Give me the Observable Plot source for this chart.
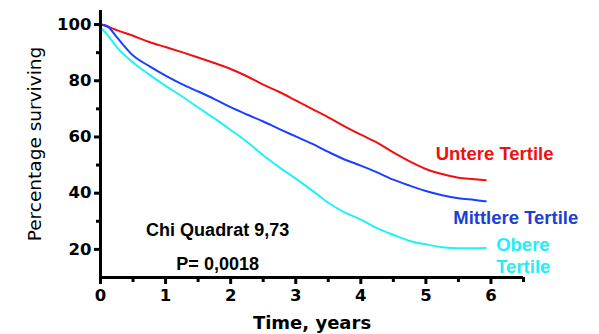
<!DOCTYPE html>
<html><head><meta charset="utf-8">
<script src="https://cdn.jsdelivr.net/npm/d3@7"></script>
<script src="https://cdn.jsdelivr.net/npm/@observablehq/plot@0.6"></script>
<style>body{margin:0;background:#fff}</style>
</head><body><div id="chart"></div>
<script>
const times    = [0, 0.1, 0.25, 0.5, 0.75, 1, 1.25, 1.5, 1.75, 2, 2.25, 2.5, 2.75, 3, 3.25, 3.5, 3.75, 4, 4.25, 4.5, 4.75, 5, 5.25, 5.5, 5.75, 5.92];
const untere   = [100, 99.3, 98.0, 96.0, 93.8, 92.0, 90.2, 88.3, 86.3, 84.2, 81.6, 78.6, 76.0, 73.0, 70.0, 67.0, 63.8, 60.8, 58.0, 54.5, 51.3, 48.6, 46.8, 45.5, 45.0, 44.6];
const mittlere = [100, 99.5, 95.5, 89.0, 85.2, 81.8, 78.8, 76.2, 73.5, 70.6, 68.0, 65.5, 62.8, 60.2, 57.6, 54.7, 52.0, 49.8, 47.4, 44.8, 42.7, 40.8, 39.3, 38.2, 37.6, 37.1];
const obere    = [99.0, 96.5, 92.0, 86.5, 82.2, 78.2, 74.5, 70.5, 66.6, 62.5, 58.3, 53.5, 49.2, 45.2, 41.0, 36.6, 33.2, 30.6, 27.6, 25.2, 23.0, 21.8, 20.8, 20.4, 20.4, 20.5];

const seriesKeys   = ["Untere", "Mittlere", "Obere"];
const seriesLabels = ["Untere Tertile", "Mittlere Tertile", "Obere\nTertile"];
const labelX = [5.15, 5.42, 6.08];
const labelY = [51.8, 29.0, 11.7];
const lineColors  = ["#f20f0f", "#1a40ff", "#1ef2f7"];
const labelColors = ["#f20f0f", "#1e3ed6", "#22eef8"];

const statsText = ["Chi Quadrat 9,73", "P= 0,0018"];
const statsX = [1.8, 1.8];
const statsY = [24.6, 12.5];

const xTicks = [0, 1, 2, 3, 4, 5, 6];
const xMinor = [0.5, 1.5, 2.5, 3.5, 4.5, 5.5, 6.5];
const yTicks = [20, 40, 60, 80, 100];
const yMinor = [30, 50, 70, 90];
const xTitle = "Time, years";
const yTitle = "Percentage surviving";

const seriesValues = [untere, mittlere, obere];
const rows = [];
seriesKeys.forEach((k, j) => times.forEach((t, i) => rows.push({t, v: seriesValues[j][i], s: k})));
const labels = seriesKeys.map((k, j) => ({s: k, text: seriesLabels[j], x: labelX[j], y: labelY[j], c: labelColors[j]}));
const stats = statsText.map((text, i) => ({text, x: statsX[i], y: statsY[i]}));

const plot = Plot.plot({
  width: 599, height: 334,
  marginLeft: 100, marginRight: 76, marginTop: 10, marginBottom: 57,
  style: {fontFamily: "DejaVu Sans", fontSize: "16px", fontWeight: "bold", color: "#000", background: "#fff"},
  x: {domain: [0, 6.5], label: null},
  y: {domain: [10, 105], label: null},
  color: {domain: seriesKeys, range: lineColors},
  marks: [
    Plot.line(rows, {x: "t", y: "v", z: "s", stroke: "s", strokeWidth: 2, curve: "monotone-x"}),
    Plot.axisX({ticks: xTicks, tickSize: 7, tickPadding: 5, strokeWidth: 3, tickFormat: d => String(d), fontWeight: "bold", fontSize: 16.5}),
    Plot.axisX({ticks: xMinor, tickSize: 5, strokeWidth: 3, text: null}),
    Plot.axisY({ticks: yTicks, tickSize: 6, tickPadding: 3, strokeWidth: 3, tickFormat: d => String(d), fontWeight: "bold", fontSize: 16.5}),
    Plot.axisY({ticks: yMinor, tickSize: 4, strokeWidth: 3, text: null}),
    Plot.ruleX([0], {strokeWidth: 3}),
    Plot.ruleY([10], {strokeWidth: 3}),
    Plot.text(labels, {x: "x", y: "y", text: "text", fill: "c", textAnchor: "start", lineAnchor: "bottom", lineHeight: 1.15,
      fontFamily: "Liberation Sans", fontWeight: "bold", fontSize: 18.5}),
    Plot.text(stats, {x: "x", y: "y", text: "text", fill: "#000", textAnchor: "middle", lineAnchor: "bottom",
      fontFamily: "Liberation Sans", fontWeight: "bold", fontSize: 18}),
    Plot.text([xTitle], {frameAnchor: "bottom", dy: 51, textAnchor: "middle", lineAnchor: "bottom", fontFamily: "DejaVu Sans", fontWeight: "bold", fontSize: 18}),
    Plot.text([yTitle], {frameAnchor: "left", dx: -65, rotate: -90, textAnchor: "middle", lineAnchor: "middle", fontFamily: "DejaVu Sans", fontWeight: "normal", fontSize: 18.5})
  ]
});
document.getElementById("chart").appendChild(plot);
</script>
</body></html>
